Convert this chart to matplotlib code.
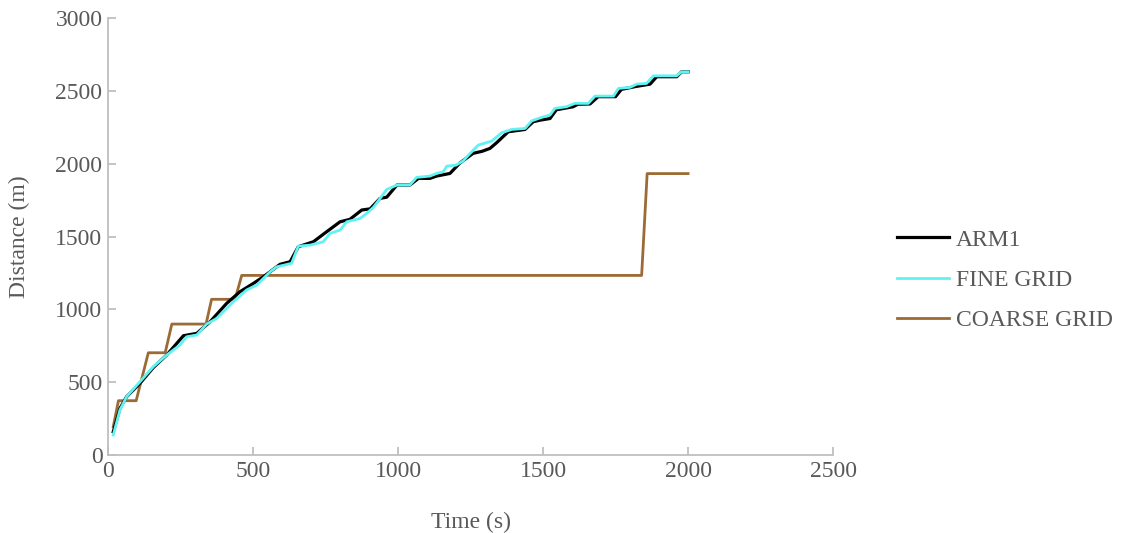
import matplotlib
matplotlib.use("Agg")
import matplotlib.pyplot as plt

# ---- data ----
arm1_t = [18, 41, 64, 87, 110, 156, 202, 260, 306, 352, 409, 455, 501, 536, 593, 628, 656,
          708, 754, 800, 834, 875, 904, 938, 961, 996, 1041, 1070, 1110, 1133, 1179, 1214,
          1259, 1290, 1317, 1340, 1380, 1438, 1466, 1490, 1524, 1546, 1604, 1620, 1662, 1690,
          1750, 1770, 1820, 1869, 1892, 1961, 1978, 2000]
arm1_d = [160, 320, 400, 446, 492, 600, 686, 819, 835, 915, 1041, 1121, 1178, 1224, 1309, 1327, 1430,
          1464, 1533, 1601, 1618, 1682, 1690, 1762, 1770, 1853, 1853, 1899, 1899, 1915, 1933, 2006,
          2071, 2085, 2105, 2144, 2219, 2235, 2288, 2299, 2310, 2370, 2391, 2408, 2410, 2460,
          2460, 2510, 2530, 2546, 2597, 2597, 2631, 2631]

fine_t = [18, 41, 64, 110, 156, 202, 248, 271, 306, 340, 375, 432, 478, 513, 559, 582, 633, 656,
          697, 742, 766, 800, 823, 869, 892, 915, 961, 996, 1041, 1064, 1110, 1133, 1156, 1168,
          1200, 1225, 1248, 1277, 1323, 1357, 1392, 1438, 1461, 1495, 1524, 1541, 1581, 1610,
          1656, 1679, 1743, 1760, 1800, 1823, 1857, 1880, 1961, 1978, 2000]
fine_d = [137, 309, 400, 503, 606, 686, 755, 812, 824, 899, 938, 1052, 1133, 1167, 1258, 1292, 1316, 1434,
          1441, 1464, 1522, 1544, 1601, 1624, 1659, 1700, 1823, 1853, 1853, 1906, 1915, 1933, 1945, 1983,
          1990, 2020, 2070, 2128, 2155, 2212, 2235, 2242, 2294, 2318, 2334, 2380, 2391, 2414,
          2414, 2464, 2464, 2517, 2524, 2546, 2551, 2603, 2603, 2631, 2631]

coarse_t = [18, 36, 97, 139, 197, 220, 338, 357, 438, 461, 1840, 1859, 2000]
coarse_d = [194, 373, 373, 702, 702, 899, 899, 1069, 1069, 1233, 1233, 1932, 1932]

labels = ["ARM1", "FINE GRID", "COARSE GRID"]
xticks = [0, 500, 1000, 1500, 2000, 2500]
yticks = [0, 500, 1000, 1500, 2000, 2500, 3000]

# ---- style ----
plt.rcParams['font.family'] = ['Liberation Serif', 'DejaVu Serif']
text_col = '#595959'
axis_col = '#bfbfbf'
fs = 17

fig = plt.figure(figsize=(11.23, 5.33), dpi=100)
ax = fig.add_axes([0.0962, 0.1463, 0.6456, 0.8199])

ax.plot(arm1_t, arm1_d, color='black', lw=2.3, label=labels[0], zorder=3)
ax.plot(fine_t, fine_d, color='#5ff3f3', lw=2.0, label=labels[1], zorder=4)
ax.plot(coarse_t, coarse_d, color='#9c6a34', lw=2.0, label=labels[2], zorder=2)

ax.set_xlim(0, 2500)
ax.set_ylim(0, 3000)
ax.set_xticks(xticks)
ax.set_yticks(yticks)

for s in ['top', 'right']:
    ax.spines[s].set_visible(False)
for s in ['left', 'bottom']:
    ax.spines[s].set_color(axis_col)
    ax.spines[s].set_linewidth(1.3)

ax.tick_params(axis='both', colors=axis_col, labelcolor=text_col, labelsize=fs,
               length=6, width=1.3, direction='in')
ax.tick_params(axis='x', pad=4)
ax.tick_params(axis='y', pad=4)

ax.set_xlabel('Time (s)', fontsize=fs, color=text_col, labelpad=22)
ax.set_ylabel('Distance (m)', fontsize=fs, color=text_col, labelpad=18)

leg = ax.legend(loc='center left', bbox_to_anchor=(1.059, 0.40), frameon=False,
                fontsize=fs, handlelength=2.2, handletextpad=0.3, labelspacing=0.8)
for t in leg.get_texts():
    t.set_color(text_col)

fig.savefig('out.png', dpi=100)
